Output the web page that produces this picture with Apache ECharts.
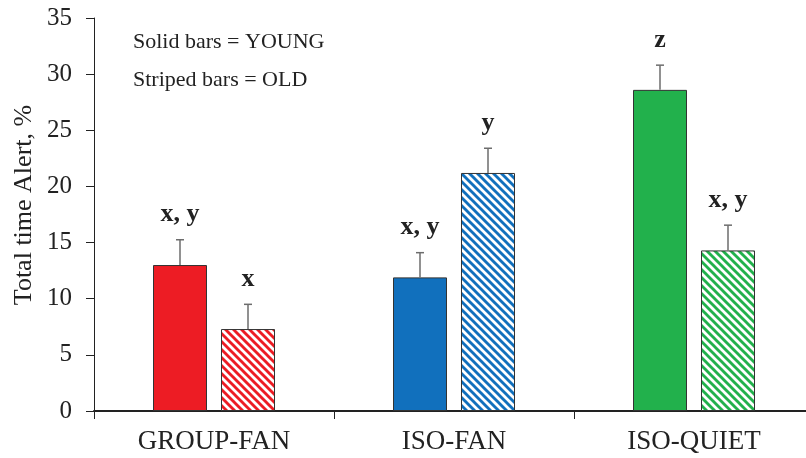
<!DOCTYPE html>
<html><head><meta charset="utf-8">
<script src="https://cdn.jsdelivr.net/npm/echarts@6/dist/echarts.min.js"></script>
<style>html,body{margin:0;padding:0;background:#fff}#c{width:806px;height:458px}</style>
</head><body><div id="c"></div>
<script>
// ---- data ----
const categories = ['GROUP-FAN', 'ISO-FAN', 'ISO-QUIET'];
const youngMeans = [13.0, 11.9, 28.6];
const oldMeans = [7.3, 21.2, 14.3];
const youngErrors = [2.25, 2.2, 2.2];
const oldErrors = [2.2, 2.2, 2.25];
const youngLetters = ['x, y', 'x, y', 'z'];
const oldLetters = ['x', 'y', 'x, y'];
const yMin = 0, yMax = 35, yStep = 5;
const yAxisTitle = 'Total time Alert, %';
const legendLines = ['Solid bars = YOUNG', 'Striped bars = OLD'];

// ---- style ----
const groupColors = ['#ED1C24', '#1170BD', '#22B14C'];
const FONT = '"Liberation Serif", "Times New Roman", serif';
const BAR_W = 54, GAP = 14;
const INK = '#222';

function stripePattern(color) {
  const s = 8;
  const cv = document.createElement('canvas');
  cv.width = s; cv.height = s;
  const ctx = cv.getContext('2d');
  ctx.fillStyle = '#fff';
  ctx.fillRect(0, 0, s, s);
  ctx.strokeStyle = color;
  ctx.lineWidth = 2.9;
  ctx.lineCap = 'square';
  for (const k of [-s, 0, s]) {
    ctx.beginPath();
    ctx.moveTo(k - 1, -1);
    ctx.lineTo(k + s + 1, s + 1);
    ctx.stroke();
  }
  return { image: cv, repeat: 'repeat' };
}

const chart = echarts.init(document.getElementById('c'), null, { renderer: 'canvas' });

function errRender(letters, sign) {
  return function (params, api) {
    const i = api.value(0);
    const mean = api.value(1);
    const err = api.value(2);
    const off = sign * (BAR_W + GAP) / 2;
    const base = api.coord([i, mean]);
    const topPt = api.coord([i, mean + err]);
    const x = base[0] + off;
    const yb = base[1];
    const yt = topPt[1];
    return {
      type: 'group',
      children: [
        { type: 'line', shape: { x1: x, y1: yb, x2: x, y2: yt }, style: { stroke: '#6d6d6d', lineWidth: 1.5 } },
        { type: 'line', shape: { x1: x - 4, y1: yt, x2: x + 4, y2: yt }, style: { stroke: '#6d6d6d', lineWidth: 1.5 } },
        { type: 'text', x: x, y: yt - 25, style: { text: letters[params.dataIndex], fill: INK, font: 'bold 26px ' + FONT, textAlign: 'center', textVerticalAlign: 'middle' } }
      ]
    };
  };
}

const option = {
  animation: false,
  backgroundColor: '#fff',
  grid: { left: 94, width: 720, top: 18, bottom: 47, containLabel: false, outerBoundsMode: 'none' },
  xAxis: {
    type: 'category',
    data: categories,
    axisLine: { lineStyle: { color: INK, width: 2 } },
    axisTick: { show: true, length: 8, lineStyle: { color: INK, width: 1 } },
    axisLabel: { color: INK, fontFamily: FONT, fontSize: 27, margin: 17 },
    splitLine: { show: false }
  },
  yAxis: {
    type: 'value',
    min: yMin, max: yMax, interval: yStep,
    axisLine: { show: true, lineStyle: { color: INK, width: 1 } },
    axisTick: { show: true, length: 8, lineStyle: { color: INK, width: 1 } },
    axisLabel: { color: INK, fontFamily: FONT, fontSize: 25, margin: 22 },
    splitLine: { show: false }
  },
  graphic: [
    { type: 'text', left: 133, top: 31, style: { text: legendLines[0], fill: INK, font: '22px ' + FONT } },
    { type: 'text', left: 133, top: 69, style: { text: legendLines[1], fill: INK, font: '22px ' + FONT } },
    { type: 'text', x: 24, y: 205, rotation: Math.PI / 2, style: { text: yAxisTitle, fill: INK, font: '26px ' + FONT, textAlign: 'center', textVerticalAlign: 'middle' } }
  ],
  series: [
    {
      type: 'bar', name: 'YOUNG', barWidth: BAR_W, barGap: (GAP / BAR_W * 100) + '%',
      data: youngMeans.map((v, i) => ({ value: v, itemStyle: { color: groupColors[i], borderColor: '#333', borderWidth: 1 } })),
      z: 2
    },
    {
      type: 'bar', name: 'OLD', barWidth: BAR_W,
      data: oldMeans.map((v, i) => ({ value: v, itemStyle: { color: stripePattern(groupColors[i]), borderColor: '#333', borderWidth: 1 } })),
      z: 2
    },
    {
      type: 'custom', name: 'YOUNG err', z: 3,
      renderItem: errRender(youngLetters, -1),
      data: youngMeans.map((v, i) => [i, v, youngErrors[i]])
    },
    {
      type: 'custom', name: 'OLD err', z: 3,
      renderItem: errRender(oldLetters, 1),
      data: oldMeans.map((v, i) => [i, v, oldErrors[i]])
    }
  ]
};
chart.setOption(option);
</script>
</body></html>
